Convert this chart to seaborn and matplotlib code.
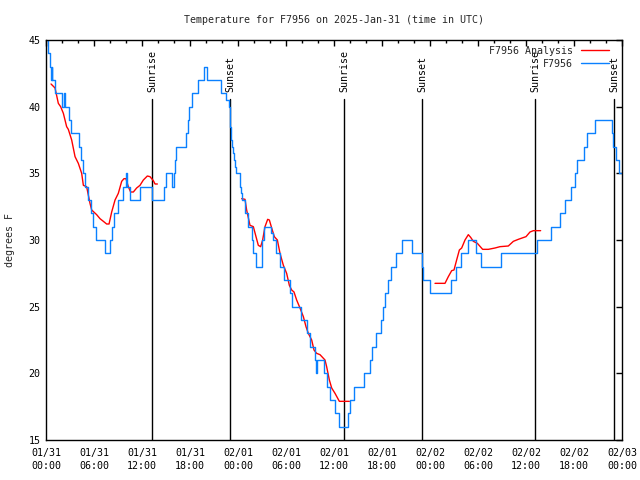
import matplotlib
matplotlib.use("Agg")
import matplotlib.pyplot as plt
import matplotlib.dates as mdates
from matplotlib.lines import Line2D
from matplotlib.ticker import MultipleLocator
import pandas as pd
import seaborn as sns

start = pd.Timestamp("2025-01-31 00:00")

# station observations (hours after start, temp F) - step changes
obs_hours = [0.05, 0.3, 0.45, 0.6, 0.7, 0.8, 1.1, 2.0, 2.2, 2.4, 2.85, 3.1, 4.1, 4.4, 4.6,
             4.85, 5.25, 5.6, 5.9, 6.25, 7.4, 8.0, 8.3, 8.5, 9.0, 9.6, 10.0, 10.15, 10.5,
             11.75, 13.25, 14.75, 15.0, 15.75, 15.95, 16.15, 16.3, 17.5, 17.7, 17.9, 18.3,
             19.0, 19.8, 20.15, 21.9, 22.45, 22.85, 23.0, 23.1, 23.3, 23.4, 23.5, 23.6,
             23.75, 24.25, 24.4, 24.55, 24.9, 25.3, 25.8, 25.85, 26.2, 26.95, 27.05, 27.3,
             28.15, 28.35, 28.7, 29.25, 29.8, 30.45, 30.8, 31.9, 32.65, 33.05, 33.6, 33.75,
             33.85, 34.75, 35.15, 35.45, 36.1, 36.6, 37.75, 38.0, 38.5, 39.8, 40.5, 40.8,
             41.2, 41.9, 42.15, 42.35, 42.75, 43.15, 43.7, 44.45, 45.8, 46.95, 47.1, 48.05,
             50.6, 51.2, 51.9, 52.75, 53.75, 54.4, 56.85, 61.35, 63.1, 64.3, 64.9, 65.6,
             66.1, 66.4, 67.2, 67.6, 68.6, 70.7, 70.9, 71.3, 71.6, 72.0]
obs_temps = [45, 44, 43, 42, 43, 42, 41, 40, 41, 40, 39, 38, 37, 36, 35,
             34, 33, 32, 31, 30, 29, 30, 31, 32, 33, 34, 35, 34, 33,
             34, 33, 34, 35, 34, 35, 36, 37, 38, 39, 40, 41,
             42, 43, 42, 41, 40.5, 40, 38.5, 37.5, 37, 36.5, 36, 35.5,
             35, 34, 33.5, 33, 32, 31, 30, 29, 28, 29, 30, 31,
             30.5, 30, 29, 28, 27, 26, 25, 24, 23, 22, 21, 20,
             21, 20, 19, 18, 17, 16, 17, 18, 19, 20, 21, 22,
             23, 24, 25, 26, 27, 28, 29, 30, 29, 28, 27, 26,
             27, 28, 29, 30, 29, 28, 29, 30, 31, 32, 33, 34,
             35, 36, 37, 38, 39, 38, 37, 36, 35, 35]

# analysis series, three pieces with gaps between them
ana1_hours = [0.63, 1.13, 1.54, 1.83, 2.17, 2.58, 2.79, 3.21, 3.63, 4.04, 4.46, 4.67, 5.08,
              5.5, 5.71, 6.33, 6.75, 7.17, 7.58, 7.88, 8.21, 8.63, 9.04, 9.46, 9.75, 10.0,
              10.29, 10.58, 10.92, 11.33, 11.75, 12.17, 12.67, 13.0, 13.42, 13.63, 13.92]
ana1_temps = [41.7, 41.4, 40.25, 40.0, 39.5, 38.5, 38.3, 37.5, 36.25, 35.75, 35.0, 34.1, 34.0,
              32.75, 32.25, 31.9, 31.6, 31.4, 31.2, 31.2, 32.1, 33.0, 33.5, 34.4, 34.6, 34.6,
              34.0, 33.6, 33.6, 33.9, 34.1, 34.5, 34.8, 34.75, 34.45, 34.2, 34.2]
ana2_hours = [24.46, 24.875, 25.08, 25.5, 25.92, 26.25, 26.54, 26.83, 27.08, 27.375, 27.71,
              27.92, 28.21, 28.54, 28.92, 29.25, 29.67, 30.08, 30.42, 30.71, 31.0, 31.33,
              31.75, 32.17, 32.5, 32.79, 33.21, 33.5, 33.83, 34.25, 34.875, 35.08, 35.42,
              35.71, 36.125, 36.67, 37.375, 37.92]
ana2_temps = [33.1, 33.05, 32.25, 31.1, 31.0, 30.25, 29.6, 29.5, 30.0, 31.0, 31.55,
              31.5, 30.9, 30.25, 30.0, 29.0, 28.1, 27.5, 26.6, 26.25, 26.1, 25.5,
              24.9, 24.25, 23.5, 23.0, 22.5, 21.75, 21.5, 21.4, 21.0, 20.5, 19.5,
              18.9, 18.5, 17.9, 17.9, 17.9]
ana3_hours = [48.625, 49.875, 50.29, 50.71, 51.0, 51.33, 51.67, 51.96, 52.375, 52.79, 53.08,
              53.42, 53.92, 54.58, 55.29, 56.125, 56.75, 57.79, 58.42, 59.04, 59.75, 60.0,
              60.5, 60.92, 61.83]
ana3_temps = [26.75, 26.75, 27.25, 27.7, 27.75, 28.5, 29.25, 29.4, 30.0, 30.4, 30.2,
              29.9, 29.75, 29.3, 29.3, 29.4, 29.5, 29.55, 29.9, 30.05, 30.2, 30.25,
              30.6, 30.7, 30.7]

sunrise_hours = [13.28, 37.27, 61.17]
sunset_hours = [23.02, 47.03, 71.04]

title = "Temperature for F7956 on 2025-Jan-31 (time in UTC)"
RED = "#ff0000"
BLUE = "#0a80ff"
FS = 7.2


def to_time(hours):
    return start + pd.to_timedelta(hours, unit="h")


obs = pd.DataFrame({"time": to_time(obs_hours), "temp": obs_temps})
ana = pd.concat([
    pd.DataFrame({"time": to_time(h), "temp": t, "seg": i})
    for i, (h, t) in enumerate([(ana1_hours, ana1_temps),
                                (ana2_hours, ana2_temps),
                                (ana3_hours, ana3_temps)])
])

sns.set_theme(style="white")
plt.rcParams["font.family"] = ["DejaVu Sans Mono"]
plt.rcParams["font.size"] = FS

fig = plt.figure(figsize=(6.4, 4.8), dpi=100)
ax = fig.add_axes([46 / 640, 40 / 480, 576 / 640, 400 / 480])

# sunrise / sunset markers
for hours, label in [(sunrise_hours, "Sunrise"), (sunset_hours, "Sunset")]:
    for h in hours:
        t = to_time(h)
        ax.plot([t, t], [15, 40.57], color="black", lw=1.0)
        ax.text(t, 41.1, label, rotation=90, ha="center", va="bottom",
                fontsize=FS, color="black")

sns.lineplot(data=ana, x="time", y="temp", units="seg", estimator=None,
             color=RED, lw=1.0, ax=ax, legend=False)
sns.lineplot(data=obs, x="time", y="temp", estimator=None, color=BLUE, lw=1.0,
             drawstyle="steps-post", ax=ax, legend=False)

ax.set_xlim(start, to_time(72))
ax.set_ylim(15, 45)
ax.set_xlabel("")
ax.set_ylabel("")
ax.xaxis.set_major_locator(mdates.HourLocator(byhour=[0, 6, 12, 18]))
ax.xaxis.set_minor_locator(mdates.HourLocator(byhour=range(0, 24, 2)))
ax.xaxis.set_major_formatter(mdates.DateFormatter("%m/%d\n%H:%M"))
ax.yaxis.set_major_locator(MultipleLocator(5))
ax.tick_params(which="both", direction="in", top=True, right=True,
               color="black", labelcolor="black", labelsize=FS, width=1)
ax.tick_params(which="major", length=4)
ax.tick_params(which="minor", length=2)
ax.tick_params(axis="x", pad=6)
ax.tick_params(axis="y", pad=4)
for lab in ax.get_xticklabels():
    lab.set_linespacing(1.35)
for s in ax.spines.values():
    s.set_color("black")
    s.set_linewidth(1.0)

handles = [Line2D([], [], color=RED, lw=1.0), Line2D([], [], color=BLUE, lw=1.0)]
ax.legend(handles, ["F7956 Analysis", "F7956"], loc="upper right",
          bbox_to_anchor=(0.995, 1.01), frameon=False,
          markerfirst=False, handlelength=2.8, handletextpad=0.8,
          borderaxespad=1.0, borderpad=0.0, labelspacing=0.3, fontsize=FS)

fig.text(334 / 640, 1 - 20 / 480, title, ha="center", va="center", fontsize=FS)
fig.text(10 / 640, 0.5, "degrees F", rotation=90, ha="center", va="center", fontsize=FS)

fig.savefig("out.png", dpi=100)
